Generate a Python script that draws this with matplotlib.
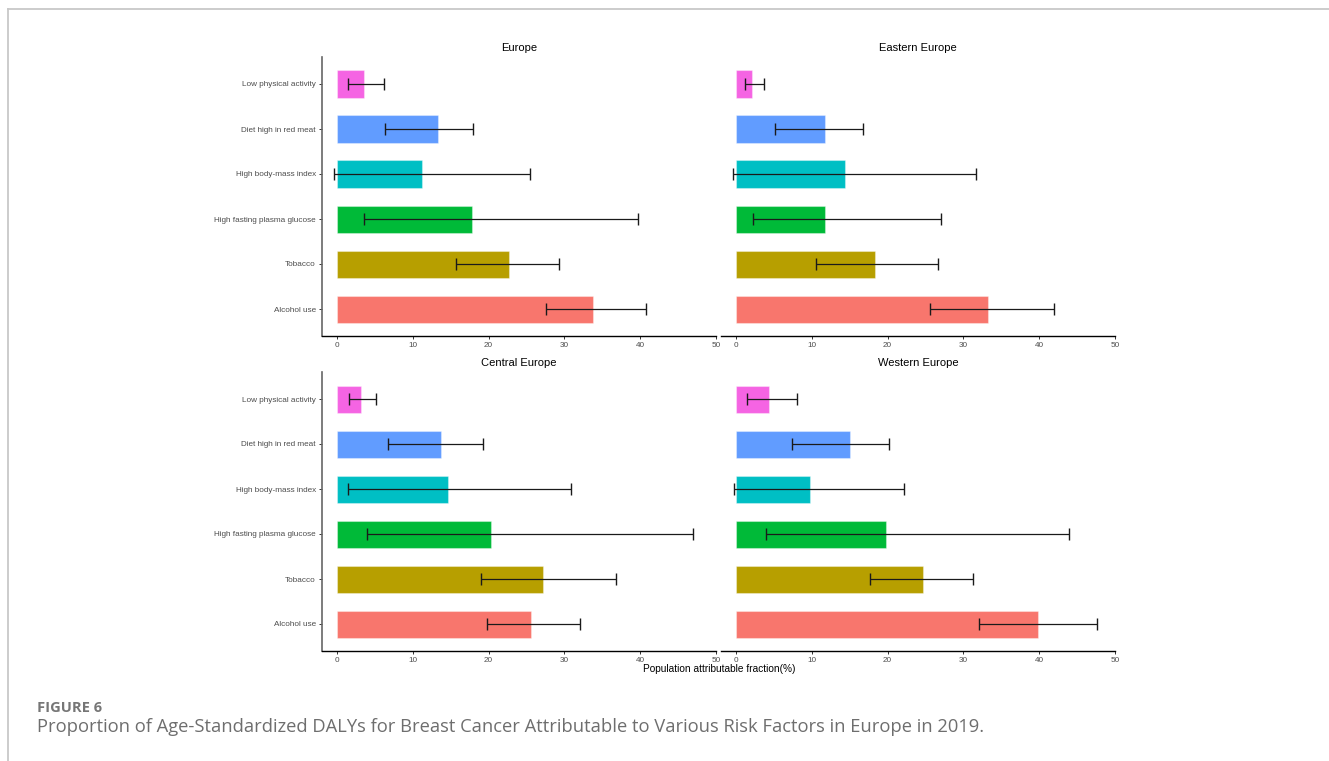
import matplotlib.pyplot as plt
import numpy as np

# Risk factors, bottom to top
facteurs = ['Alcohol use', 'Tobacco', 'High fasting plasma glucose',
            'High body-mass index', 'Diet high in red meat', 'Low physical activity']
couleurs = ['#F8766D', '#B79F00', '#00BA38', '#00BFC4', '#619CFF', '#F564E3']

regions = ['Europe', 'Eastern Europe', 'Central Europe', 'Western Europe']

# Population attributable fraction (%) with lower / upper bounds
europe_val = [33.8, 22.7, 17.8, 11.2, 13.3, 3.5]
europe_bas = [27.6, 15.7, 3.5, -0.4, 6.3, 1.5]
europe_haut = [40.7, 29.3, 39.7, 25.5, 17.9, 6.2]

est_val = [33.2, 18.4, 11.7, 14.4, 11.8, 2.1]
est_bas = [25.6, 10.6, 2.2, -0.4, 5.1, 1.2]
est_haut = [41.9, 26.6, 27.0, 31.7, 16.7, 3.7]

centre_val = [25.6, 27.2, 20.3, 14.7, 13.7, 3.1]
centre_bas = [19.8, 19.0, 4.0, 1.4, 6.7, 1.6]
centre_haut = [32.1, 36.8, 47.0, 30.9, 19.2, 5.2]

ouest_val = [39.8, 24.7, 19.8, 9.7, 15.0, 4.3]
ouest_bas = [32.1, 17.7, 4.0, -0.3, 7.4, 1.5]
ouest_haut = [47.6, 31.3, 43.9, 22.2, 20.2, 8.1]

donnees = {
    'Europe': (europe_val, europe_bas, europe_haut),
    'Eastern Europe': (est_val, est_bas, est_haut),
    'Central Europe': (centre_val, centre_bas, centre_haut),
    'Western Europe': (ouest_val, ouest_bas, ouest_haut),
}

W, H = 1329, 761
fig = plt.figure(figsize=(W / 100, H / 100), dpi=100)
plt.rcParams['font.family'] = ['Liberation Sans', 'DejaVu Sans']

# Frame around the figure (top and left edges)
fig.add_artist(plt.Line2D([7.5 / W, 7.5 / W], [0, 1 - 9 / H], color='#c8c8c8', lw=1.3))
fig.add_artist(plt.Line2D([7.5 / W, 1], [1 - 9 / H, 1 - 9 / H], color='#c8c8c8', lw=1.3))

# Panel positions in pixels: (left, top)
positions = [(322, 57), (721, 57), (322, 372), (721, 372)]
larg, haut = 394, 279

y = np.arange(1, 7)
for region, (gx, gy) in zip(regions, positions):
    ax = fig.add_axes([gx / W, 1 - (gy + haut) / H, larg / W, haut / H])
    val, bas, hautb = donnees[region]
    val = np.array(val)
    ax.barh(y, val, height=0.6, color=couleurs, edgecolor=(1, 1, 1, 0.35), lw=0.8, zorder=2)
    ax.errorbar(val, y, xerr=[val - np.array(bas), np.array(hautb) - val],
                fmt='none', ecolor='#1a1a1a', elinewidth=0.9, capsize=4.3,
                capthick=1.0, zorder=3)
    ax.set_xlim(-1.98, 50)
    ax.set_ylim(0.4, 6.6)
    ax.set_xticks([0, 10, 20, 30, 40, 50])
    ax.set_yticks(y)
    ax.spines['top'].set_visible(False)
    ax.spines['right'].set_visible(False)
    ax.spines['bottom'].set_color('black')
    ax.spines['bottom'].set_linewidth(1.0)
    ax.tick_params(axis='x', length=2.5, width=0.7, color='#333333',
                   labelsize=5.9, labelcolor='#4D4D4D', pad=2)
    if gx < 700:
        ax.spines['left'].set_color('#666666')
        ax.spines['left'].set_linewidth(1.2)
        ax.set_yticklabels(facteurs)
        ax.tick_params(axis='y', length=2.5, width=0.7, color='#333333',
                       labelsize=5.9, labelcolor='#4D4D4D', pad=2)
    else:
        ax.spines['left'].set_visible(False)
        ax.tick_params(axis='y', length=0, labelleft=False)
    ax.text(0.5, 1 + 9 / haut, region, transform=ax.transAxes,
            ha='center', va='center', fontsize=8, color='black')

fig.text(719 / W, 1 - 669 / H, 'Population attributable fraction(%)',
         ha='center', va='center', fontsize=7.3, color='black')

# Caption
fig.text(37 / W, 1 - 712 / H, 'FIGURE 6', ha='left', va='baseline',
         fontsize=10.6, fontweight='bold', color='#767676', family=['Open Sans', 'DejaVu Sans'])
fig.text(37 / W, 1 - 732.5 / H,
         'Proportion of Age-Standardized DALYs for Breast Cancer Attributable to Various Risk Factors in Europe in 2019.',
         ha='left', va='baseline', fontsize=13.25, color='#6e6e6e',
         family=['Open Sans', 'DejaVu Sans'])

fig.savefig('out.png', dpi=100, facecolor='white')
